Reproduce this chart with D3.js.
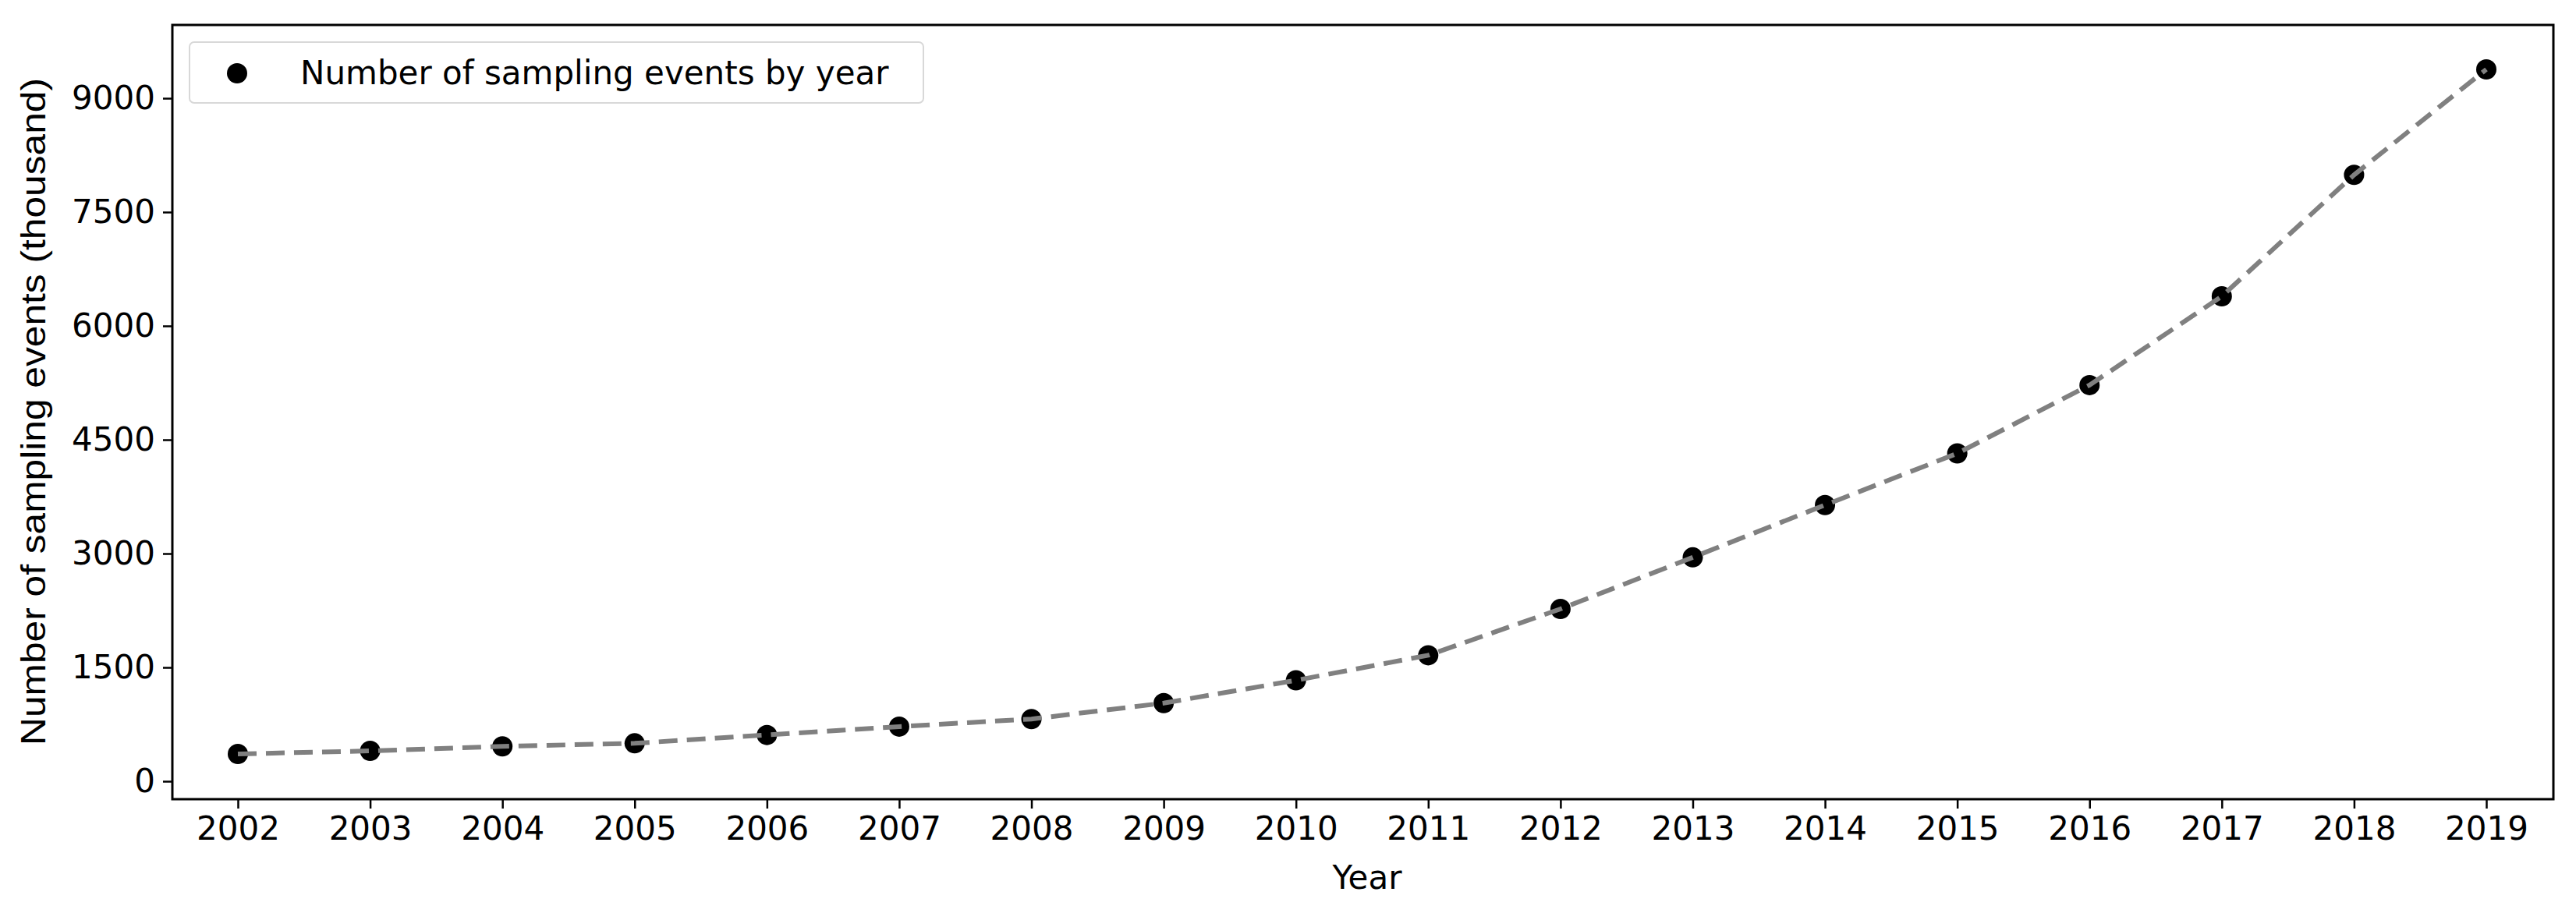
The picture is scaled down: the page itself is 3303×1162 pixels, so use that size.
<!DOCTYPE html>
<html>
<head>
<meta charset="utf-8">
<script src="https://cdn.jsdelivr.net/npm/d3@7"></script>
<style>
  body { margin: 0; background: #fff; }
  text { font-family: "DejaVu Sans", sans-serif; fill: #000; }
</style>
</head>
<body>
<svg id="chart" width="3303" height="1162"></svg>
<script>
// data
var years = [2002, 2003, 2004, 2005, 2006, 2007, 2008, 2009, 2010, 2011,
             2012, 2013, 2014, 2015, 2016, 2017, 2018, 2019];
var events = [360, 400, 460, 500, 610, 720, 820, 1030, 1330, 1660,
              2270, 2950, 3640, 4320, 5220, 6390, 7990, 9380];
var yTicks = [0, 1500, 3000, 4500, 6000, 7500, 9000];

var svg = d3.select("#chart");
var plotLeft = 221, plotRight = 3274, plotTop = 32, plotBottom = 1025;

var x = d3.scaleLinear().domain([2002, 2019]).range([305, 3188]);
var y = d3.scaleLinear().domain([0, 9000]).range([1002, 126]);

var xAxis = svg.append("g")
  .attr("transform", "translate(0," + plotBottom + ")")
  .call(d3.axisBottom(x).tickValues(years).tickFormat(d3.format("d")).tickSize(12).tickPadding(10));
var yAxis = svg.append("g")
  .attr("transform", "translate(" + plotLeft + ",0)")
  .call(d3.axisLeft(y).tickValues(yTicks).tickFormat(d3.format("d")).tickSize(12).tickPadding(10));
[xAxis, yAxis].forEach(function(a) {
  a.select(".domain").remove();
  a.selectAll(".tick line").attr("stroke", "#000").attr("stroke-width", 2.5);
  a.selectAll(".tick text").style("font-size", "42px").style("font-family", "DejaVu Sans");
});

// frame
svg.append("rect")
  .attr("x", plotLeft).attr("y", plotTop)
  .attr("width", plotRight - plotLeft).attr("height", plotBottom - plotTop)
  .attr("fill", "none").attr("stroke", "#000").attr("stroke-width", 3);

var line = d3.line().x(function(d, i) { return x(years[i]); }).y(function(d) { return y(d); });

svg.selectAll("circle.pt").data(events).enter().append("circle")
  .attr("class", "pt")
  .attr("cx", function(d, i) { return x(years[i]); })
  .attr("cy", function(d) { return y(d); })
  .attr("r", 13).attr("fill", "#000");

svg.append("path").datum(events)
  .attr("d", line)
  .attr("fill", "none").attr("stroke", "#808080")
  .attr("stroke-width", 6).attr("stroke-dasharray", "24,12");

// legend
svg.append("rect")
  .attr("x", 243).attr("y", 54).attr("width", 941).attr("height", 78).attr("rx", 6)
  .attr("fill", "#fff").attr("stroke", "#d8d8d8").attr("stroke-width", 2);
svg.append("circle").attr("cx", 304).attr("cy", 94).attr("r", 13).attr("fill", "#000");
svg.append("text").attr("x", 385).attr("y", 108)
  .style("font-size", "42px").text("Number of sampling events by year");

// axis titles
svg.append("text")
  .attr("x", 1753).attr("y", 1140).attr("text-anchor", "middle")
  .style("font-size", "42px").text("Year");
svg.append("text")
  .attr("transform", "translate(58,528) rotate(-90)")
  .attr("text-anchor", "middle")
  .attr("textLength", 856).attr("lengthAdjust", "spacingAndGlyphs")
  .style("font-size", "44px").style("font-family", "Liberation Sans")
  .text("Number of sampling events (thousand)");
</script>
</body>
</html>
